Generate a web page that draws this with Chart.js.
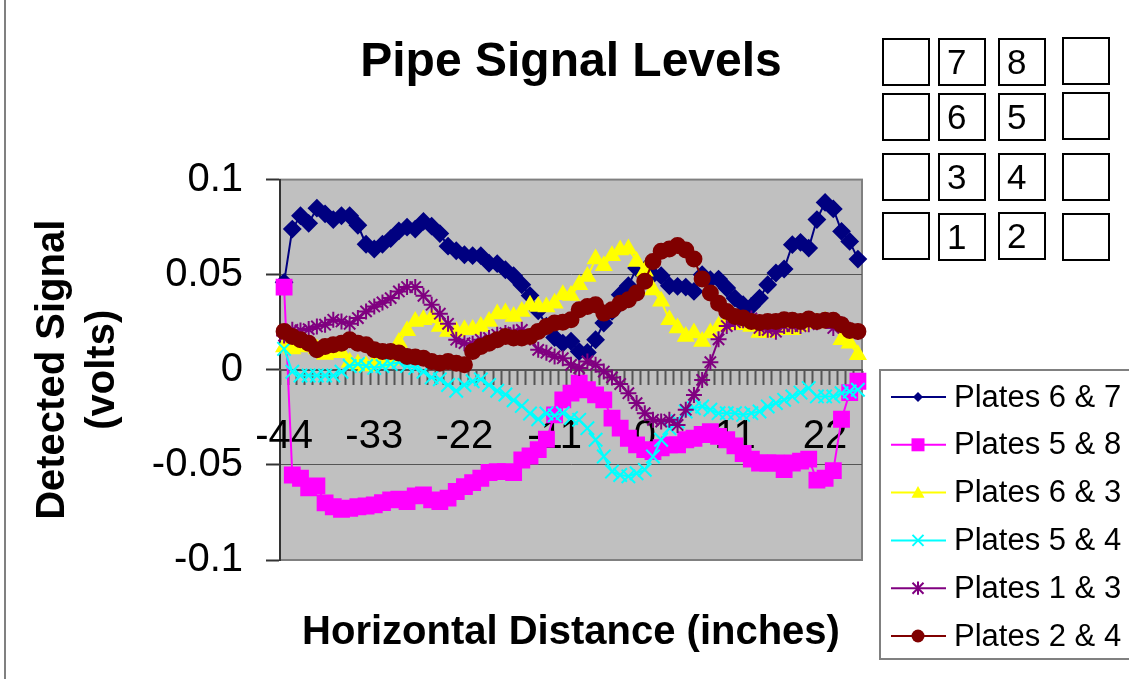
<!DOCTYPE html>
<html>
<head>
<meta charset="utf-8">
<script src="https://cdn.jsdelivr.net/npm/chart.js@4.4.1/dist/chart.umd.min.js"></script>
<style>
html,body{margin:0;padding:0;background:#fff;}
#wrap{position:relative;width:1129px;height:681px;overflow:hidden;background:#fff;}
#c{position:absolute;left:0;top:0;}
#frame{position:absolute;left:4px;top:0;width:1200px;height:679px;border-left:2px solid #808080;border-bottom:0;pointer-events:none;}
.pb{position:absolute;width:48px;height:48px;box-sizing:border-box;border:2px solid #000;background:#fff;
    font:35px 'Liberation Sans',Arial,sans-serif;line-height:44px;padding-left:7px;color:#000;}
</style>
</head>
<body>
<div id="wrap">
<canvas id="c" width="1129" height="681"></canvas>
<div id="frame"></div>
<div class="pb" style="left:882px;top:38px"></div>
<div class="pb" style="left:938px;top:38px">7</div>
<div class="pb" style="left:998px;top:38px">8</div>
<div class="pb" style="left:1062px;top:37px"></div>
<div class="pb" style="left:882px;top:93px"></div>
<div class="pb" style="left:938px;top:93px">6</div>
<div class="pb" style="left:998px;top:93px">5</div>
<div class="pb" style="left:1062px;top:92px"></div>
<div class="pb" style="left:882px;top:153px"></div>
<div class="pb" style="left:938px;top:153px">3</div>
<div class="pb" style="left:998px;top:153px">4</div>
<div class="pb" style="left:1062px;top:153px"></div>
<div class="pb" style="left:882px;top:212px"></div>
<div class="pb" style="left:938px;top:213px">1</div>
<div class="pb" style="left:998px;top:212px">2</div>
<div class="pb" style="left:1062px;top:213px"></div>
</div>
<script>
const categories = [-44,-43,-42,-41,-40,-39,-38,-37,-36,-35,-34,-33,-32,-31,-30,-29,-28,-27,-26,-25,-24,-23,-22,-21,-20,-19,-18,-17,-16,-15,-14,-13,-12,-11,-10,-9,-8,-7,-6,-5,-4,-3,-2,-1,0,1,2,3,4,5,6,7,8,9,10,11,12,13,14,15,16,17,18,19,20,21,22,23,24,25,26];
const tickLabels = [-44,-33,-22,-11,0,11,22];
const yTicks = [-0.1,-0.05,0,0.05,0.1];

const plates67 = [0.046,0.074,0.081,0.077,0.085,0.082,0.079,0.081,0.081,0.076,0.066,0.0635,0.066,0.069,0.073,0.075,0.074,0.078,0.0755,0.0716,0.065,0.0626,0.0605,0.060,0.060,0.056,0.0558,0.0526,0.0495,0.0447,0.039,0.031,0.023,0.017,0.014,0.015,0.0096,0.0091,0.0158,0.0246,0.0307,0.0395,0.0442,0.0535,0.0526,0.050,0.0495,0.0442,0.0439,0.0435,0.0412,0.050,0.0474,0.0477,0.043,0.0377,0.0342,0.0333,0.0377,0.0447,0.0509,0.053,0.0658,0.067,0.064,0.079,0.088,0.0846,0.0728,0.0675,0.0582];
const plates58 = [0.0435,-0.0553,-0.057,-0.062,-0.061,-0.070,-0.072,-0.0733,-0.0728,-0.072,-0.0716,-0.071,-0.0698,-0.0684,-0.068,-0.0693,-0.0663,-0.0658,-0.0684,-0.0693,-0.0675,-0.064,-0.0614,-0.0593,-0.057,-0.054,-0.0535,-0.0535,-0.054,-0.0474,-0.0453,-0.042,-0.0365,-0.0237,-0.0158,-0.0123,-0.007,-0.0105,-0.0132,-0.0158,-0.0254,-0.0307,-0.036,-0.0395,-0.042,-0.043,-0.041,-0.0395,-0.0395,-0.0368,-0.036,-0.034,-0.0325,-0.035,-0.0368,-0.040,-0.044,-0.047,-0.049,-0.049,-0.049,-0.0525,-0.049,-0.048,-0.047,-0.058,-0.057,-0.053,-0.026,-0.012,-0.006];
const plates63 = [0.012,0.011,0.012,0.013,0.011,0.008,0.009,0.009,0.004,0.003,0.002,0.004,0.004,0.005,0.0144,0.0205,0.0254,0.0263,0.0272,0.0228,0.0202,0.0202,0.021,0.0212,0.0228,0.0254,0.0294,0.0298,0.028,0.0307,0.034,0.0333,0.033,0.035,0.0395,0.039,0.0447,0.049,0.0582,0.0547,0.060,0.063,0.0635,0.057,0.0518,0.042,0.036,0.0263,0.022,0.0175,0.0193,0.0149,0.0193,0.0228,0.0254,0.0237,0.0237,0.0228,0.0196,0.0196,0.021,0.022,0.021,0.0228,0.0242,0.0246,0.0254,0.0246,0.0158,0.014,0.0079];
const plates54 = [0.011,-0.001,-0.003,-0.003,-0.003,-0.003,-0.003,-0.001,0.002,0.003,0.002,0.001,0.002,0.003,0.004,0.002,0.001,-0.001,-0.004,-0.005,-0.008,-0.011,-0.008,-0.006,-0.005,-0.008,-0.011,-0.013,-0.016,-0.019,-0.023,-0.026,-0.023,-0.024,-0.0228,-0.0254,-0.0263,-0.0307,-0.0368,-0.0456,-0.0535,-0.0553,-0.056,-0.0544,-0.0526,-0.0456,-0.0368,-0.0307,-0.0272,-0.0219,-0.0202,-0.0193,-0.021,-0.0228,-0.0228,-0.0228,-0.0237,-0.0228,-0.0219,-0.0193,-0.0175,-0.0158,-0.014,-0.012,-0.0096,-0.014,-0.014,-0.014,-0.0123,-0.0114,-0.0105];
const plates13 = [0.018,0.021,0.0207,0.0214,0.0228,0.0237,0.0263,0.0254,0.0242,0.0272,0.0307,0.0333,0.0354,0.0377,0.0412,0.0435,0.0435,0.0389,0.0342,0.0295,0.0242,0.0158,0.014,0.0137,0.0158,0.0167,0.0184,0.0193,0.0196,0.021,0.017,0.0105,0.009,0.007,0.0061,0.0026,0.0009,0.0044,0.0026,-0.0009,-0.004,-0.0075,-0.0123,-0.0175,-0.0228,-0.0263,-0.0272,-0.0263,-0.029,-0.021,-0.0132,-0.0053,0.004,0.016,0.023,0.025,0.026,0.027,0.022,0.021,0.020,0.023,0.023,0.023,0.024,0.025,0.026,0.022,0.024,0.021,0.020];
const plates24 = [0.0202,0.0175,0.0158,0.014,0.0105,0.0123,0.0132,0.014,0.0158,0.014,0.0132,0.0105,0.0096,0.0096,0.0088,0.007,0.0067,0.0061,0.0044,0.0035,0.0044,0.0035,0.0026,0.0096,0.0123,0.014,0.0158,0.0175,0.0167,0.0167,0.0175,0.0202,0.0228,0.0246,0.025,0.0263,0.0316,0.0333,0.0342,0.0298,0.0316,0.035,0.0368,0.0404,0.0465,0.057,0.0623,0.0635,0.0653,0.063,0.0582,0.0477,0.0404,0.035,0.0307,0.028,0.0272,0.0254,0.0249,0.0254,0.0254,0.0263,0.026,0.0254,0.0267,0.0254,0.026,0.026,0.0237,0.0207,0.0202];

const FAM = "'Liberation Sans', Arial, sans-serif";

function series(label, data, color, style, r, k){
  return {label, data, borderColor:color, backgroundColor:color, pointBackgroundColor:color,
    pointBorderColor:color, pointStyle:style, pointRadius:r, pointBorderWidth:2, borderWidth:2,
    tension:0, clip:false, order:5-k};
}

const plotBg = {
  id:'plotBg',
  beforeDraw(chart){
    const {ctx, chartArea:a} = chart;
    ctx.save();
    ctx.fillStyle = '#C0C0C0';
    ctx.fillRect(a.left, a.top, a.right-a.left, a.bottom-a.top);
    ctx.strokeStyle = '#808080'; ctx.lineWidth = 2;
    ctx.strokeRect(a.left, a.top, a.right-a.left, a.bottom-a.top);
    ctx.restore();
  }
};

function marker(ctx, style, x, y, r){
  ctx.beginPath();
  if (style==='rectRot'){ ctx.moveTo(x,y-r);ctx.lineTo(x+r,y);ctx.lineTo(x,y+r);ctx.lineTo(x-r,y);ctx.closePath();ctx.fill(); }
  else if (style==='rect'){ ctx.fillRect(x-r,y-r,2*r,2*r); }
  else if (style==='triangle'){ ctx.moveTo(x,y-r);ctx.lineTo(x+r,y+r*0.8);ctx.lineTo(x-r,y+r*0.8);ctx.closePath();ctx.fill(); }
  else if (style==='circle'){ ctx.arc(x,y,r,0,Math.PI*2);ctx.fill(); }
  else if (style==='crossRot'){ ctx.moveTo(x-r,y-r);ctx.lineTo(x+r,y+r);ctx.moveTo(x+r,y-r);ctx.lineTo(x-r,y+r);ctx.stroke(); }
  else if (style==='star'){ ctx.moveTo(x-r,y-r);ctx.lineTo(x+r,y+r);ctx.moveTo(x+r,y-r);ctx.lineTo(x-r,y+r);ctx.moveTo(x,y-r*1.2);ctx.lineTo(x,y+r*1.2);ctx.stroke(); }
}

const xlLegend = {
  id:'xlLegend',
  afterDraw(chart){
    const ctx = chart.ctx;
    ctx.save();
    ctx.fillStyle = '#fff'; ctx.fillRect(880,370,260,289);
    ctx.strokeStyle = '#808080'; ctx.lineWidth = 2; ctx.strokeRect(880,370,260,289);
    chart.data.datasets.forEach((ds,k)=>{
      const y = 397 + 47.8*k;
      ctx.strokeStyle = ds.borderColor; ctx.fillStyle = ds.borderColor; ctx.lineWidth = 2;
      ctx.beginPath(); ctx.moveTo(891,y); ctx.lineTo(946,y); ctx.stroke();
      marker(ctx, ds.pointStyle, 918, y, ds.legendR);
      ctx.fillStyle = '#000'; ctx.font = '31px ' + FAM; ctx.textBaseline = 'middle'; ctx.textAlign = 'left';
      ctx.fillText(ds.label, 954, y+1);
    });
    ctx.restore();
  }
};

const datasets = [
  series('Plates 6 & 7', plates67, '#000080', 'rectRot', 8, 0),
  series('Plates 5 & 8', plates58, '#FF00FF', 'rect', 10.5, 1),
  series('Plates 6 & 3', plates63, '#FFFF00', 'triangle', 8.5, 2),
  series('Plates 5 & 4', plates54, '#00FFFF', 'crossRot', 9.5, 3),
  series('Plates 1 & 3', plates13, '#800080', 'star', 8, 4),
  series('Plates 2 & 4', plates24, '#800000', 'circle', 7.5, 5)
];
const legendR = [5, 6.5, 6.5, 5.5, 5.5, 6.5];
datasets.forEach((d,i)=>{ d.legendR = legendR[i]; });

new Chart(document.getElementById('c'), {
  type:'line',
  data:{ labels:categories, datasets },
  options:{
    responsive:false, animation:false, devicePixelRatio:1,
    layout:{ padding:{left:0, right:267, top:0, bottom:0} },
    plugins:{
      legend:{display:false},
      tooltip:{enabled:false},
      title:{display:true, text:'Pipe Signal Levels', fullSize:false, color:'#000',
        font:{size:48, weight:'bold', family:FAM, lineHeight:1.2}, padding:{top:34, bottom:88}},
      subtitle:{display:true, position:'bottom', text:'Horizontal Distance (inches)', fullSize:false, color:'#000',
        font:{size:40, weight:'bold', family:FAM, lineHeight:1.2}, padding:{top:49, bottom:24}}
    },
    scales:{
      y:{ type:'linear', position:'left', min:yTicks[0], max:yTicks[yTicks.length-1],
        afterBuildTicks(s){ s.ticks = yTicks.map(v=>({value:v})); },
        ticks:{ color:'#000', padding:23, font:{size:40, family:FAM},
          callback(v){ return String(Math.round(v*1000)/1000); } },
        grid:{ color:(c)=> (c.tick && Math.abs(c.tick.value) > 0.099 ? 'rgba(0,0,0,0)' : '#555'),
               lineWidth:1, drawTicks:true, tickLength:14, tickColor:'#333', tickWidth:2 },
        border:{ display:true, color:'#333', width:2 },
        title:{ display:true, text:['Detected Signal','(volts)'], color:'#000',
          font:{size:40, weight:'bold', family:FAM, lineHeight:1.25}, padding:{top:28, bottom:0} },
        afterFit(s){ s.width = 280; }
      },
      x:{ type:'category', position:{y:0}, offset:true,
        ticks:{ autoSkip:false, maxRotation:0, minRotation:0, color:'#000', padding:29, font:{size:40, family:FAM},
          callback(v){ const lab = this.getLabelForValue(v); return tickLabels.includes(Number(lab)) ? String(lab) : ''; } },
        grid:{ drawOnChartArea:false, drawTicks:true, tickLength:14, offset:true, tickColor:'#555', tickWidth:2 },
        border:{ display:true, color:'#555', width:2 }
      }
    }
  },
  plugins:[plotBg, xlLegend]
});
</script>
</body>
</html>
